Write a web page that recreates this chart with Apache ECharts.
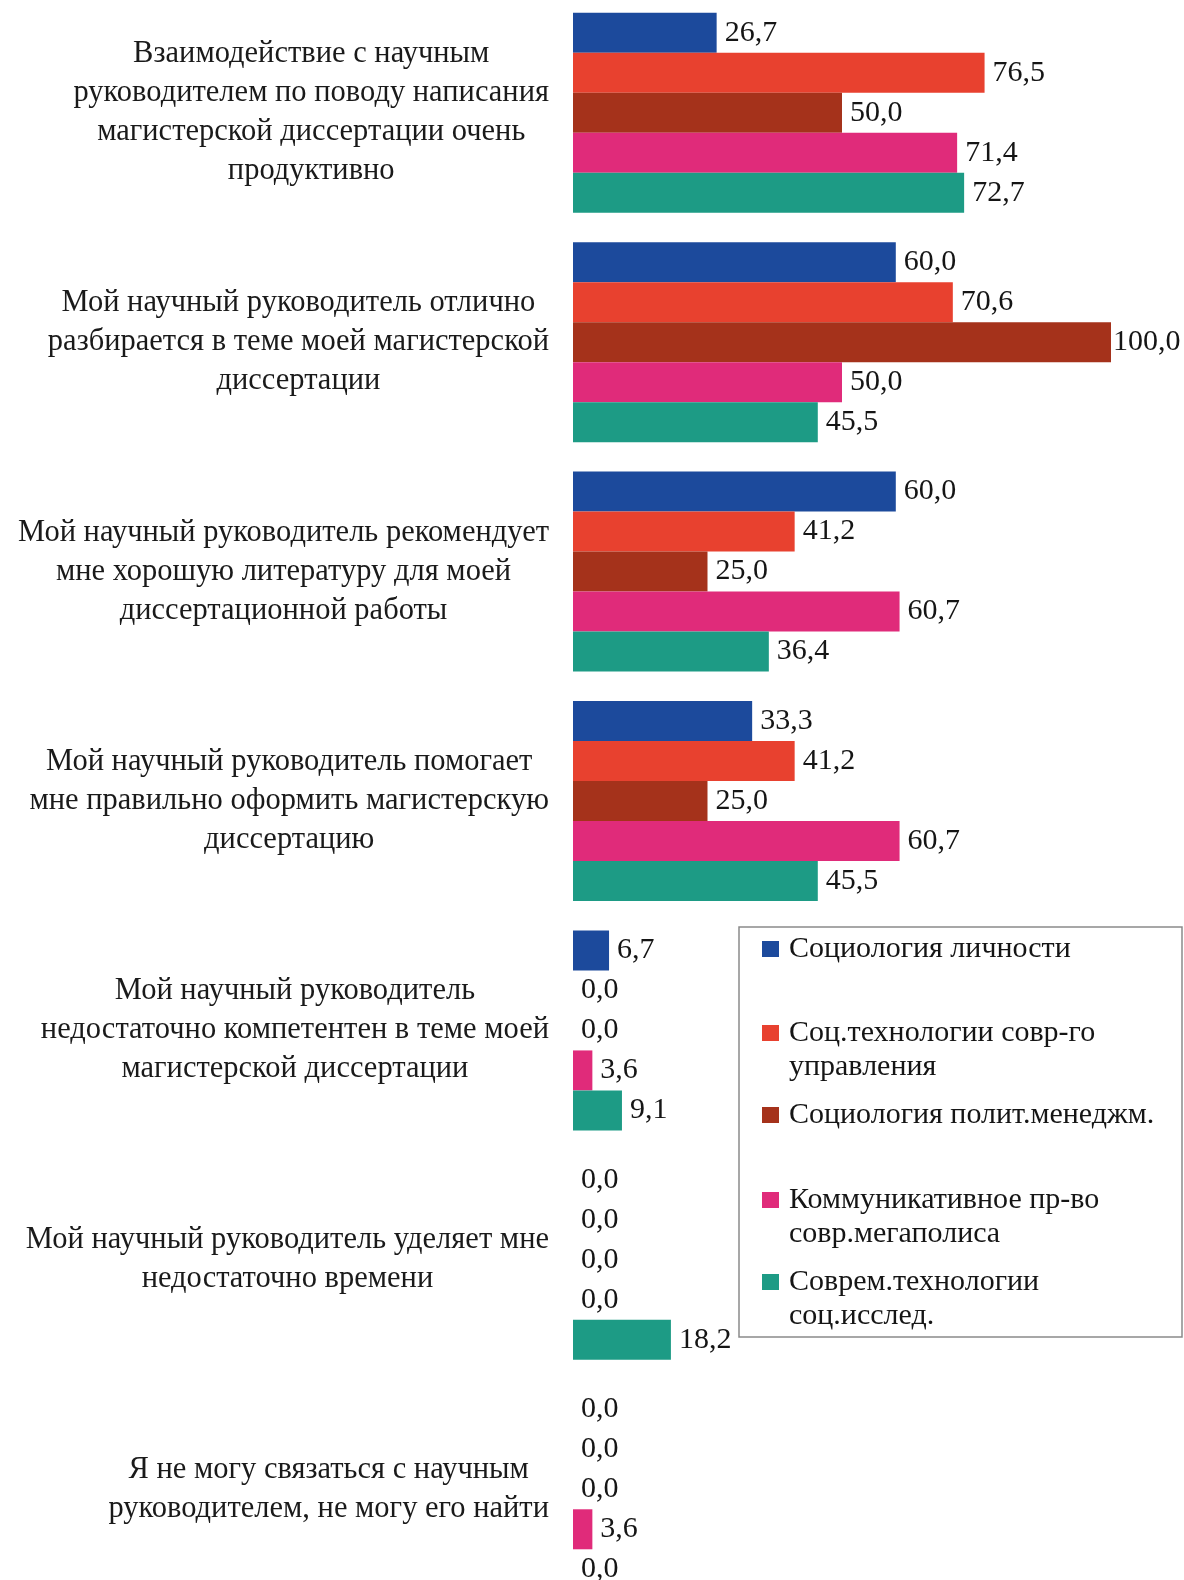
<!DOCTYPE html>
<html>
<head>
<meta charset="utf-8">
<script src="https://cdn.jsdelivr.net/npm/echarts@6/dist/echarts.min.js"></script>
<style>
html,body{margin:0;padding:0;background:#fff;}
#main{width:1184px;height:1580px;}
</style>
</head>
<body>
<div id="main"></div>
<script>
const categories = [
  "Взаимодействие с научным\nруководителем по поводу написания\nмагистерской диссертации очень\nпродуктивно",
  "Мой научный руководитель отлично\nразбирается в теме моей магистерской\nдиссертации",
  "Мой научный руководитель рекомендует\nмне хорошую литературу для моей\nдиссертационной работы",
  "Мой научный руководитель помогает\nмне правильно оформить магистерскую\nдиссертацию",
  "Мой научный руководитель\nнедостаточно компетентен в теме моей\nмагистерской диссертации",
  "Мой научный руководитель уделяет мне\nнедостаточно времени",
  "Я не могу связаться с научным\nруководителем, не могу его найти"
];
const seriesNames = [
  "Социология личности",
  "Соц.технологии совр-го управления",
  "Социология полит.менеджм.",
  "Коммуникативное пр-во совр.мегаполиса",
  "Соврем.технологии соц.исслед."
];
const legendLabels = [
  "Социология личности",
  "Соц.технологии совр-го\nуправления",
  "Социология полит.менеджм.",
  "Коммуникативное пр-во\nсовр.мегаполиса",
  "Соврем.технологии\nсоц.исслед."
];
const sociologyPersonality = [26.7, 60.0, 60.0, 33.3, 6.7, 0.0, 0.0];
const socTechManagement   = [76.5, 70.6, 41.2, 41.2, 0.0, 0.0, 0.0];
const sociologyPolitMgmt  = [50.0, 100.0, 25.0, 25.0, 0.0, 0.0, 0.0];
const communicativeSpace  = [71.4, 50.0, 60.7, 60.7, 3.6, 0.0, 3.6];
const modernTechResearch  = [72.7, 45.5, 36.4, 45.5, 9.1, 18.2, 0.0];
const seriesValues = [sociologyPersonality, socTechManagement, sociologyPolitMgmt, communicativeSpace, modernTechResearch];
const colors = ['#1c4a9c', '#e8412f', '#a5321b', '#e02b7a', '#1d9b85'];

const FONT = '"Liberation Serif", "Times New Roman", serif';
const legendIconCenters = [949, 1033, 1115, 1200, 1282];
const LH = 34;

const chart = echarts.init(document.getElementById('main'), null, {renderer: 'canvas'});

const series = seriesValues.map((vals, i) => ({
  name: seriesNames[i],
  type: 'bar',
  barWidth: 40,
  barGap: '0%',
  itemStyle: {color: colors[i]},
  label: {
    show: true,
    position: 'right',
    distance: 8,
    fontFamily: FONT,
    fontSize: 30,
    color: '#151515',
    formatter: p => p.value.toFixed(1).replace('.', ',')
  },
  data: vals.map(v => v >= 100 ? {value: v, label: {distance: 2}} : v)
}));

const legends = seriesNames.map((name, i) => {
  const twoLine = legendLabels[i].indexOf('\n') >= 0;
  return {
    show: true,
    orient: 'vertical',
    left: 762,
    top: legendIconCenters[i] - (twoLine ? 1.5 * LH : 0.5 * LH),
    padding: 0,
    itemWidth: 17,
    itemHeight: 16,
    icon: 'rect',
    selectedMode: false,
    data: [name],
    formatter: n => {
      const t = legendLabels[seriesNames.indexOf(n)];
      return t.indexOf('\n') >= 0 ? ' \n' + t : t;
    },
    textStyle: {
      fontFamily: FONT,
      fontSize: 30,
      lineHeight: LH,
      color: '#151515',
      padding: [0, 0, 0, 5]
    }
  };
});

chart.setOption({
  backgroundColor: '#ffffff',
  animation: false,
  grid: {left: 573, width: 538, top: -2, height: 1606, containLabel: false, outerBoundsMode: 'none'},
  xAxis: {
    type: 'value', min: 0, max: 100,
    show: false
  },
  yAxis: {
    type: 'category',
    inverse: true,
    data: categories,
    axisLine: {show: false},
    axisTick: {show: false},
    splitLine: {show: false},
    axisLabel: {
      margin: 24,
      align: 'right',
      fontFamily: FONT,
      fontSize: 30.5,
      lineHeight: 39,
      color: '#1a1a1a',
      formatter: v => v.split('\n').map(l => '{c|' + l + '}').join('\n'),
      rich: {
        c: {align: 'center', fontFamily: FONT, fontSize: 30.5, lineHeight: 39, color: '#1a1a1a'}
      }
    }
  },
  legend: legends,
  graphic: [{
    type: 'rect',
    shape: {x: 739, y: 927, width: 443, height: 410},
    style: {fill: 'none', stroke: '#8a8a8a', lineWidth: 1.5},
    z: 0
  }],
  series: series
});
</script>
</body>
</html>
